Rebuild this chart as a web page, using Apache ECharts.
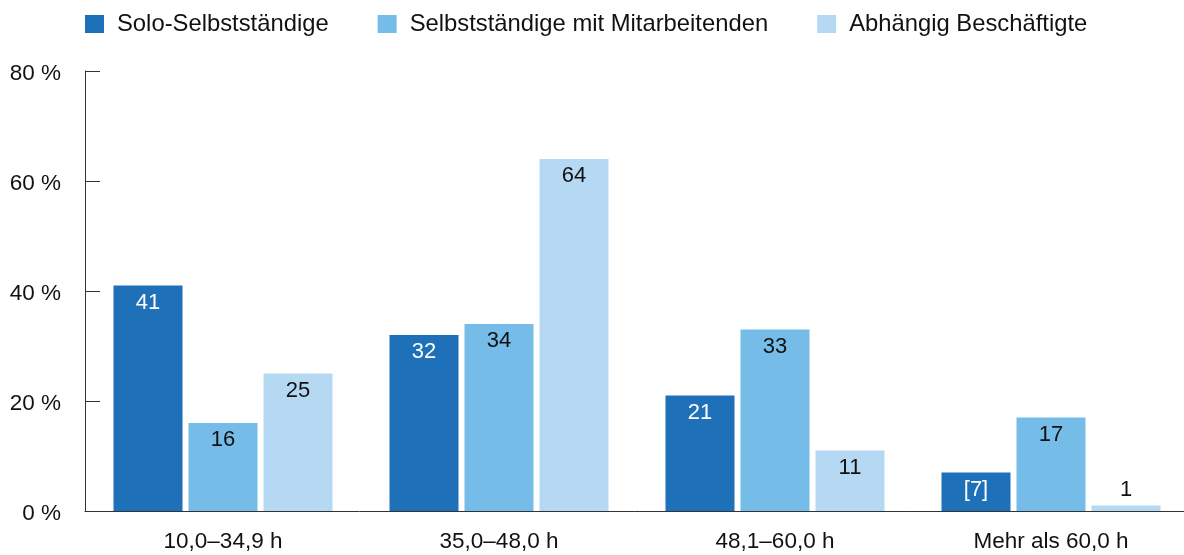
<!DOCTYPE html>
<html>
<head>
<meta charset="utf-8">
<script src="https://cdn.jsdelivr.net/npm/echarts@6/dist/echarts.min.js"></script>
<style>
  html, body { margin: 0; padding: 0; background: #ffffff; }
  #chart { width: 1184px; height: 555px; }
</style>
</head>
<body>
<div id="chart"></div>
<script>
// Wochenarbeitszeit nach Erwerbsform (Anteile in %)
const categories = ['10,0–34,9 h', '35,0–48,0 h', '48,1–60,0 h', 'Mehr als 60,0 h'];
const seriesNames = ['Solo-Selbstständige', 'Selbstständige mit Mitarbeitenden', 'Abhängig Beschäftigte'];
const soloValues = [41, 32, 21, 7];
const mitMitarbeitendenValues = [16, 34, 33, 17];
const abhaengigValues = [25, 64, 11, 1];
// Werte mit eingeschränkter Aussagekraft, als [Reihe, Kategorie]
const bracketed = [[0, 3]];
const yTicks = { min: 0, max: 80, interval: 20 };

const colors = ['#1e70b8', '#75bde8', '#b5d8f3'];
const labelColors = ['#ffffff', '#111111', '#111111'];
const FONT = 'Liberation Sans, Arial, Helvetica, sans-serif';

function buildSeries(idx, values) {
  return {
    name: seriesNames[idx],
    type: 'bar',
    barWidth: 69,
    barGap: '8.7%',
    itemStyle: { color: colors[idx] },
    label: {
      show: true,
      position: 'insideTop',
      distance: 6,
      color: labelColors[idx],
      fontFamily: FONT,
      fontSize: 22,
      formatter: function (p) {
        const isBr = bracketed.some(b => b[0] === idx && b[1] === p.dataIndex);
        return isBr ? '[' + p.value + ']' : String(p.value);
      }
    },
    data: values.map(v => v < 5
      ? { value: v, label: { position: 'top', distance: 5, color: '#111111' } }
      : v)
  };
}

const chart = echarts.init(document.getElementById('chart'), null, { renderer: 'canvas' });
chart.setOption({
  animation: false,
  backgroundColor: '#ffffff',
  legend: {
    left: 85,
    top: 12,
    padding: 0,
    itemWidth: 19,
    itemHeight: 18,
    itemGap: 49,
    icon: 'rect',
    textStyle: {
      fontFamily: FONT,
      fontSize: 23.8,
      color: '#111111',
      padding: [0, 0, 0, 8]
    },
    data: seriesNames
  },
  grid: {
    left: 85, width: 1104, top: 71, bottom: 44,
    containLabel: false,
    outerBoundsMode: 'none'
  },
  xAxis: {
    type: 'category',
    data: categories,
    axisLine: { show: true, lineStyle: { color: '#333333', width: 1 } },
    axisTick: { show: false },
    axisLabel: {
      fontFamily: FONT,
      fontSize: 22.5,
      color: '#111111',
      margin: 19
    }
  },
  yAxis: {
    type: 'value',
    min: yTicks.min,
    max: yTicks.max,
    interval: yTicks.interval,
    axisLine: { show: true, lineStyle: { color: '#333333', width: 1 } },
    axisTick: { show: true, inside: true, length: 15, lineStyle: { color: '#333333', width: 1 } },
    splitLine: { show: false },
    axisLabel: {
      fontFamily: FONT,
      fontSize: 22.5,
      color: '#111111',
      margin: 24,
      formatter: '{v|{value}\u00A0%}',
      rich: {
        v: { fontFamily: FONT, fontSize: 22.5, color: '#111111', padding: [5, 0, 0, 0] }
      }
    }
  },
  series: [
    buildSeries(0, soloValues),
    buildSeries(1, mitMitarbeitendenValues),
    buildSeries(2, abhaengigValues)
  ]
});
</script>
</body>
</html>
